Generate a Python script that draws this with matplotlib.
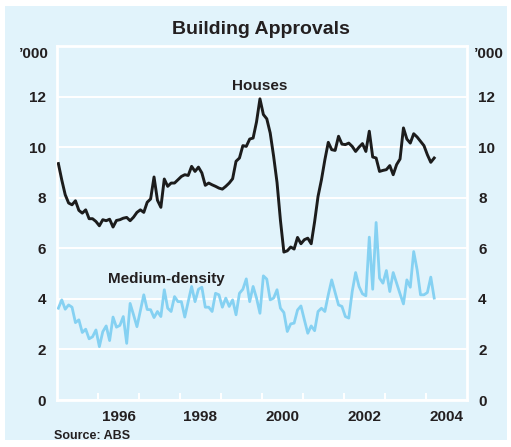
import numpy as np
import matplotlib
matplotlib.use('Agg')
import matplotlib.pyplot as plt

plt.rcParams['font.family'] = ['Liberation Sans', 'DejaVu Sans']

# Monthly building approvals ('000), Jan 1995 - Mar 2004
start_year = 1995
houses = [9.35, 8.70, 8.12, 7.79, 7.72, 7.88, 7.50, 7.39, 7.52, 7.17, 7.17, 7.06,
          6.89, 7.13, 7.09, 7.15, 6.84, 7.10, 7.13, 7.19, 7.22, 7.09, 7.23, 7.42,
          7.52, 7.42, 7.82, 7.95, 8.82, 7.90, 7.62, 8.74, 8.45, 8.58, 8.58, 8.71,
          8.84, 8.91, 8.88, 9.24, 9.04, 9.21, 8.98, 8.49, 8.58, 8.51, 8.45, 8.38,
          8.34, 8.45, 8.58, 8.75, 9.44, 9.57, 10.06, 10.03, 10.32, 10.36, 11.00, 11.91,
          11.29, 11.12, 10.56, 9.64, 8.60, 7.10, 5.85, 5.90, 6.05, 5.97, 6.43, 6.18,
          6.34, 6.40, 6.18, 7.05, 8.05, 8.71, 9.50, 10.19, 9.90, 9.87, 10.43, 10.12,
          10.10, 10.16, 10.03, 9.83, 10.00, 10.14, 9.83, 10.63, 9.61, 9.57, 9.04, 9.08,
          9.11, 9.27, 8.91, 9.31, 9.53, 10.76, 10.32, 10.16, 10.53, 10.40, 10.23, 10.06,
          9.70, 9.40, 9.57]
medium = [3.63, 3.96, 3.59, 3.76, 3.67, 3.06, 3.17, 2.67, 2.80, 2.42, 2.50, 2.77,
          2.11, 2.70, 2.93, 2.35, 3.28, 2.88, 2.95, 3.30, 2.24, 3.82, 3.37, 2.90,
          3.53, 4.16, 3.58, 3.57, 3.26, 3.50, 3.30, 4.36, 3.63, 3.50, 4.09, 3.89,
          3.89, 3.28, 3.89, 4.49, 3.89, 4.38, 4.46, 3.67, 3.67, 3.50, 4.22, 4.16,
          3.67, 4.03, 3.70, 3.96, 3.37, 4.22, 4.38, 4.79, 3.89, 4.49, 4.03, 3.43,
          4.91, 4.78, 3.96, 4.03, 4.36, 3.63, 3.46, 2.71, 3.01, 3.04, 3.56, 3.72,
          3.17, 2.64, 2.93, 2.74, 3.50, 3.63, 3.50, 4.16, 4.75, 4.25, 3.76, 3.70,
          3.30, 3.24, 4.29, 5.04, 4.49, 4.20, 4.12, 6.44, 4.38, 7.02, 4.82, 4.62,
          5.12, 4.29, 5.04, 4.62, 4.20, 3.80, 4.75, 4.46, 5.87, 5.15, 4.16, 4.16,
          4.25, 4.86, 4.03]

year_ticks = list(range(1996, 2005))
year_labels = ['1996', '1998', '2000', '2002', '2004']
y_ticks = [0, 2, 4, 6, 8, 10, 12]

bg = '#e1f3fb'
txt = '#231f20'
t = start_year + (np.arange(len(houses)) + 0.4) / 12.0

fig = plt.figure(figsize=(5.11, 4.47), dpi=100)
fig.patch.set_facecolor('white')
# light blue panel inside a thin white margin
fig.patches.append(plt.Rectangle((5/511, 7/447), 502/511, 434/447, transform=fig.transFigure,
                                 facecolor=bg, edgecolor='none', zorder=-10))

ax = fig.add_axes([57/511, 47/447, 410/511, 354/447])
ax.set_facecolor(bg)
ax.plot(t, medium, color='#85d1f2', lw=2.0, zorder=3)
ax.plot(t, houses, color='#1c1c1c', lw=2.1, zorder=4)

ax.set_xlim(1995, 2005)
ax.set_ylim(0, 14)
ax.set_yticks(y_ticks)
ax.yaxis.grid(True, color='white', lw=1.4)
ax.set_axisbelow(True)
for s in ax.spines.values():
    s.set_color('white')
    s.set_linewidth(2.0)

# year ticks at year boundaries, labels centred on the year
ax.set_xticks(year_ticks, minor=True)
ax.set_xticks([int(y) + 0.5 for y in year_labels])
ax.set_xticklabels(year_labels)
ax.tick_params(axis='x', which='minor', direction='in', color='white', length=5, width=1.4)
ax.tick_params(axis='x', which='major', length=0, pad=7)
ax.tick_params(axis='y', length=0, pad=8, labelright=True)
ax.tick_params(axis='both', labelsize=11, labelcolor=txt)
for lab in ax.get_xticklabels() + ax.get_yticklabels():
    lab.set_fontweight('bold')
for tk in ax.yaxis.get_major_ticks():
    tk.label2.set_fontweight('bold')

ax.text(-0.02, 13.7, "\u2019000", transform=ax.get_yaxis_transform(), ha='right', va='center',
        fontsize=11, fontweight='bold', color=txt, clip_on=False)
ax.text(1.018, 13.7, "\u2019000", transform=ax.get_yaxis_transform(), ha='left', va='center',
        fontsize=11, fontweight='bold', color=txt, clip_on=False)

ax.text(1999.95, 12.4, 'Houses', ha='center', va='center', fontsize=11, fontweight='bold', color=txt)
ax.text(1997.67, 4.8, 'Medium-density', ha='center', va='center', fontsize=11, fontweight='bold', color=txt)

fig.text(261/511, 1 - 29/447, 'Building Approvals', ha='center', va='center',
         fontsize=14, fontweight='bold', color=txt)
fig.text(54/511, 1 - 436/447, 'Source: ABS', ha='left', va='center',
         fontsize=9, fontweight='bold', color=txt)

fig.savefig('out.png', dpi=100, facecolor=fig.get_facecolor())
